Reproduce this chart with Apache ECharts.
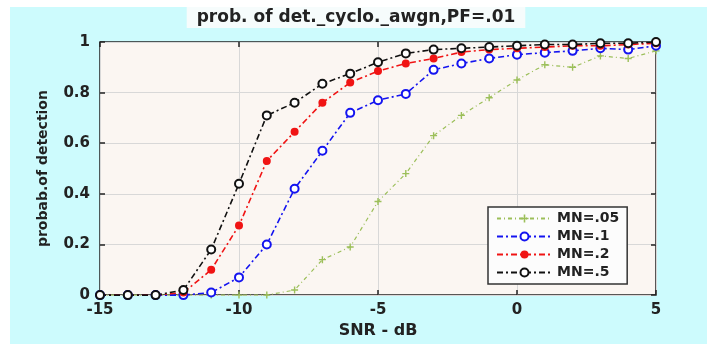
<!DOCTYPE html>
<html>
<head>
<meta charset="utf-8">
<script src="https://cdn.jsdelivr.net/npm/echarts@6/dist/echarts.min.js"></script>
<style>
html,body{margin:0;padding:0;background:#fff;}
#c{width:707px;height:344px;
background: linear-gradient(#fff,#fff) 0 0/100% 7px no-repeat, linear-gradient(#fff,#fff) 0 0/10px 100% no-repeat, #cdfbfd;}
</style>
</head>
<body>
<div id="c"></div>
<script>
const snr = [-15,-14,-13,-12,-11,-10,-9,-8,-7,-6,-5,-4,-3,-2,-1,0,1,2,3,4,5];
const mn05 = [0,0,0,0,0,0,0,0.02,0.14,0.19,0.37,0.48,0.63,0.71,0.78,0.85,0.91,0.90,0.945,0.935,0.965];
const mn1  = [0,0,0,0,0.01,0.07,0.2,0.42,0.57,0.72,0.77,0.795,0.89,0.915,0.935,0.95,0.958,0.965,0.975,0.97,0.985];
const mn2  = [0,0,0,0.01,0.1,0.275,0.53,0.645,0.76,0.84,0.885,0.915,0.935,0.96,0.97,0.975,0.98,0.985,0.985,0.99,0.995];
const mn5  = [0,0,0,0.02,0.18,0.44,0.71,0.76,0.835,0.875,0.92,0.955,0.97,0.975,0.98,0.985,0.99,0.99,0.995,0.995,1.0];
const names = ['MN=.05','MN=.1','MN=.2','MN=.5'];
const titleText = 'prob. of det._cyclo._awgn,PF=.01';
const xName = 'SNR - dB';
const yName = 'probab.of detection';

const FONT = 'DejaVu Sans';
const pair = arr => snr.map((x,i)=>[x,arr[i]]);
const dashDot = [6,3,2,3];
const plus = 'path://M-1,-5H1V-1H5V1H1V5H-1V1H-5V-1H-1Z';
const tick = {show: true, inside: true, length: 5, lineStyle: {color: '#222', width: 1.5}};

const chart = echarts.init(document.getElementById('c'), null, {renderer:'canvas'});
chart.setOption({
  backgroundColor: 'transparent',
  animation: false,
  title: {
    text: titleText, left: 346, top: 7, textAlign: 'center',
    backgroundColor: '#f6fcfc', padding: [2, 10],
    textStyle: {fontFamily: FONT, fontWeight: 'bold', fontSize: 17, color: '#222'}
  },
  grid: {left: 100, right: 51, top: 42, bottom: 48, show: true,
    backgroundColor: '#fbf6f2', borderColor: '#222', borderWidth: 1.5},
  legend: {
    orient: 'vertical', left: 488, top: 207,
    data: names,
    backgroundColor: '#fcfcfc', borderColor: '#333', borderWidth: 1.5,
    padding: [3, 8], itemGap: 1, itemWidth: 55, itemHeight: 10,
    textStyle: {fontFamily: FONT, fontWeight: 'bold', fontSize: 14, color: '#222', lineHeight: 17}
  },
  xAxis: [{
    type: 'value', min: -15, max: 5, interval: 5, position: 'bottom',
    name: xName, nameLocation: 'middle', nameGap: 24,
    nameTextStyle: {fontFamily: FONT, fontWeight: 'bold', fontSize: 16, color: '#222'},
    axisLine: {show: false, onZero: false},
    axisTick: tick,
    axisLabel: {fontFamily: FONT, fontWeight: 'bold', fontSize: 15, color: '#222', margin: 8},
    splitLine: {show: true, lineStyle: {color: '#d8d8d8', width: 1}}
  },{
    type: 'value', min: -15, max: 5, interval: 5, position: 'top',
    axisLine: {show: false, onZero: false}, axisLabel: {show: false},
    axisTick: tick,
    splitLine: {show: false}
  }],
  yAxis: [{
    type: 'value', min: 0, max: 1, interval: 0.2, position: 'left',
    name: yName, nameLocation: 'middle', nameGap: 50,
    nameTextStyle: {fontFamily: FONT, fontWeight: 'bold', fontSize: 14, color: '#222'},
    axisLine: {show: false, onZero: false},
    axisTick: tick,
    axisLabel: {fontFamily: FONT, fontWeight: 'bold', fontSize: 15, color: '#222', margin: 10},
    splitLine: {show: true, lineStyle: {color: '#d8d8d8', width: 1}}
  },{
    type: 'value', min: 0, max: 1, interval: 0.2, position: 'right',
    axisLine: {show: false, onZero: false}, axisLabel: {show: false},
    axisTick: tick,
    splitLine: {show: false}
  }],
  series: [
    {name: names[0], type: 'line', data: pair(mn05), symbol: plus, symbolSize: 7,
      itemStyle: {color: '#9cbf5a'}, lineStyle: {color: '#9cbf5a', width: 1.2, type: [4,3,1,3]}},
    {name: names[1], type: 'line', data: pair(mn1), symbol: 'emptyCircle', symbolSize: 8,
      itemStyle: {color: '#1414f0', borderWidth: 2}, lineStyle: {color: '#1414f0', width: 1.6, type: dashDot}},
    {name: names[2], type: 'line', data: pair(mn2), symbol: 'circle', symbolSize: 8,
      itemStyle: {color: '#f01414'}, lineStyle: {color: '#f01414', width: 1.6, type: dashDot}},
    {name: names[3], type: 'line', data: pair(mn5), symbol: 'emptyCircle', symbolSize: 8,
      itemStyle: {color: '#111', borderWidth: 2}, lineStyle: {color: '#111', width: 1.6, type: dashDot}}
  ]
});
</script>
</body>
</html>
